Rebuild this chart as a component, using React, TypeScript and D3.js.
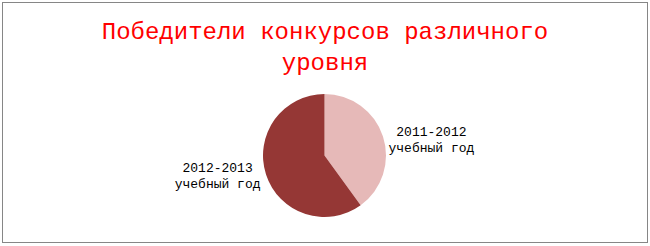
import React from "react";
import * as d3 from "d3";

const categories = ["2011-2012 учебный год", "2012-2013 учебный год"];
const values = [2, 3];
const colors = ["#E6B9B8", "#953735"];
const titleLines = ["Победители конкурсов различного", "уровня"];

const W = 650;
const H = 246;
const cx = 324.5;
const cy = 155.5;
const r = 61.5;
const font = "'Liberation Mono', 'Courier New', monospace";
const fontSize = 13;
const charW = fontSize * 0.6;

export default function App() {
  const pie = d3.pie<number>().sort(null).value((d) => d);
  const arcs = pie(values);
  const arc = d3.arc<d3.PieArcDatum<number>>().innerRadius(0).outerRadius(r);

  return (
    <svg
      width={W}
      height={H}
      style={{ position: "absolute", left: 0, top: 0, background: "#fff" }}
    >
      <rect x={2.5} y={2.5} width={645} height={240} fill="#fff" stroke="#868686" strokeWidth={1} />
      {titleLines.map((t, i) => (
        <text
          key={i}
          x={325}
          y={39 + i * 31}
          textAnchor="middle"
          fill="#FF0000"
          fontFamily={font}
          fontSize={24}
        >
          {t}
        </text>
      ))}
      <g transform={`translate(${cx},${cy})`}>
        {arcs.map((a, i) => (
          <path key={i} d={arc(a) ?? ""} fill={colors[i]} />
        ))}
        {arcs.map((a, i) => {
          const mid = (a.startAngle + a.endAngle) / 2;
          const side = Math.sin(mid) >= 0 ? 1 : -1;
          const words = categories[i].split(" ");
          const lines = [words[0], words.slice(1).join(" ")];
          const half = (Math.max(...lines.map((l) => l.length)) * charW) / 2;
          // labels sit just beside the pie, level with the slice's mid-angle
          const lx = side * (r + 2.5 + half);
          const ly = -r * Math.cos(mid) + (side > 0 ? 3 : 1);
          return (
            <text
              key={i}
              x={lx}
              y={ly}
              textAnchor="middle"
              fontFamily={font}
              fontSize={fontSize}
              fill="#000"
            >
              {lines.map((l, j) => (
                <tspan key={j} x={lx} dy={j === 0 ? -3.5 : 15.5}>
                  {l}
                </tspan>
              ))}
            </text>
          );
        })}
      </g>
    </svg>
  );
}
